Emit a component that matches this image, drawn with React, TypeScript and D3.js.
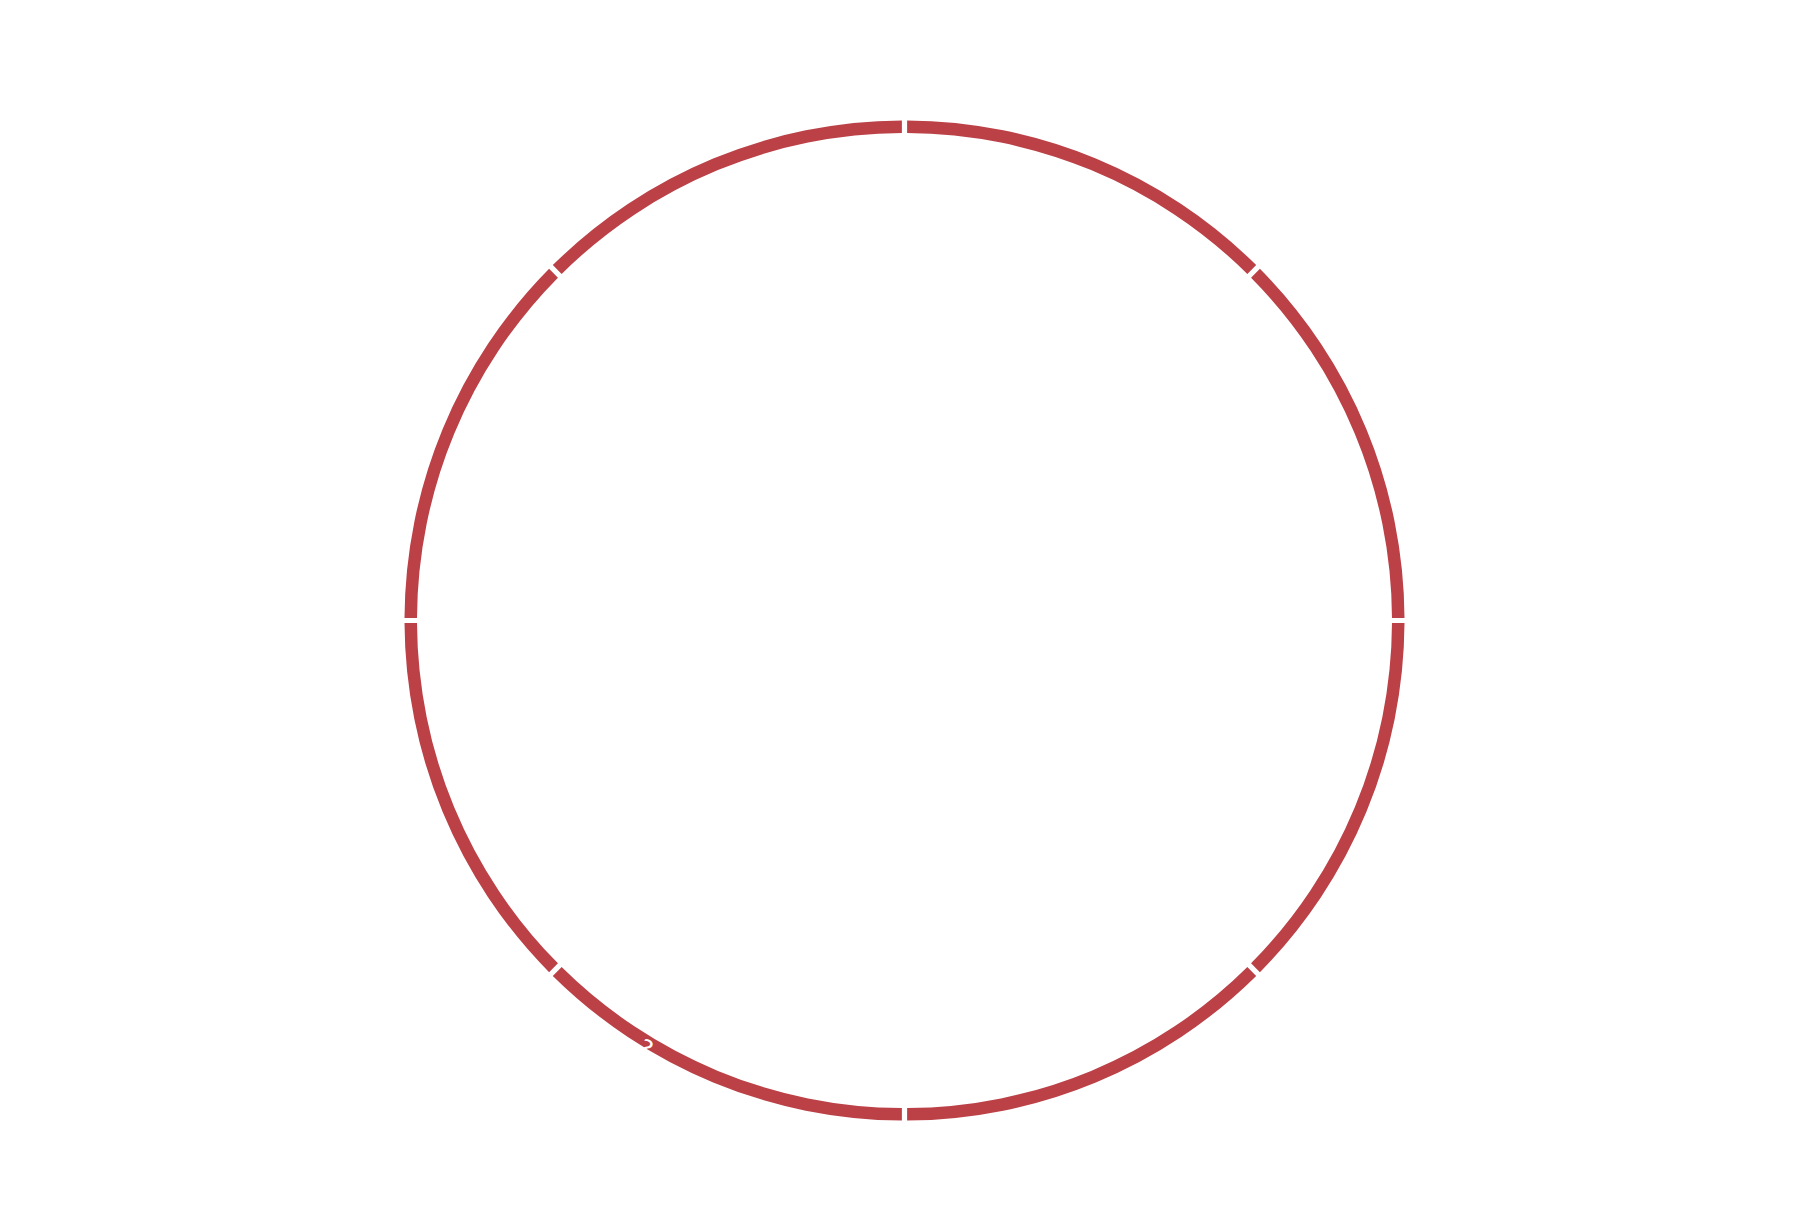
import React from "react";
import * as d3 from "d3";

const categories = ["A", "B", "C", "D", "E", "F", "G", "H"];
const groupValues = [1, 1, 1, 1, 1, 1, 1, 1];

const W = 1809;
const H = 1216;
const CX = 904.5;
const CY = 620.5;
const R_OUT = 500;
const R_IN = 487.5;

export default function App() {
  const pie = d3
    .pie<number>()
    .sort(null)
    .value((d) => d)
    .startAngle(0)
    .endAngle(2 * Math.PI)
    .padAngle(0.0075);
  const arcs = pie(groupValues);
  const arcGen = d3.arc<d3.PieArcDatum<number>>().innerRadius(R_IN).outerRadius(R_OUT);

  // stray white label fragment visible over the ring (lower-left)
  const la = (211.2 * Math.PI) / 180;
  const lr = 491;
  const lx = CX + lr * Math.sin(la);
  const ly = CY - lr * Math.cos(la);

  return (
    <svg
      width={W}
      height={H}
      style={{ position: "absolute", left: 0, top: 0, background: "#fff" }}
    >
      <g transform={`translate(${CX},${CY})`}>
        {arcs.map((a, i) => (
          <path key={categories[i]} d={arcGen(a) || ""} fill="#bb4147" />
        ))}
      </g>
      <text
        x={lx}
        y={ly}
        fill="#fff"
        fontFamily="DejaVu Sans, sans-serif"
        fontSize={24}
        textAnchor="middle"
        dominantBaseline="hanging"
        transform={`rotate(31 ${lx} ${ly})`}
      >
        ?
      </text>
    </svg>
  );
}
